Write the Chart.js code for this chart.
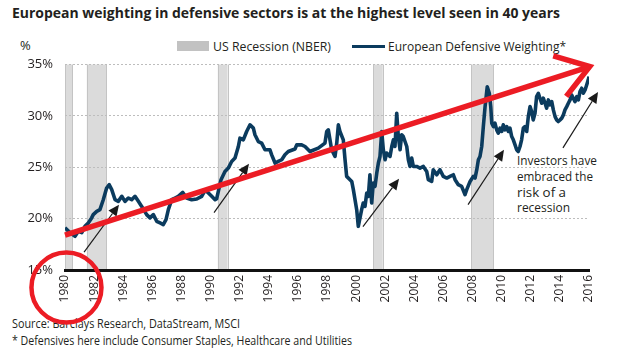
<!DOCTYPE html>
<html>
<head>
<meta charset="utf-8">
<script src="https://cdn.jsdelivr.net/npm/chart.js@4.4.1/dist/chart.umd.min.js"></script>
<style>
html,body{margin:0;padding:0;background:#fff;}
#wrap{position:relative;width:623px;height:356px;overflow:hidden;font-family:'Open Sans',sans-serif;color:#231f20;}
.t{position:absolute;white-space:nowrap;transform-origin:0 50%;}
#c{position:absolute;left:0;top:0;}
</style>
</head>
<body>
<div id="wrap">
  <div class="t" data-w="548" style="left:12px;top:3px;font-size:15px;line-height:18px;font-weight:700;">European weighting in defensive sectors is at the highest level seen in 40 years</div>
  <div class="t" style="left:20px;top:37px;font-size:13px;line-height:16px;">%</div>
  <div style="position:absolute;left:177px;top:41px;width:32px;height:10px;background:#c2c2c2;"></div>
  <div class="t" data-w="118" style="left:213px;top:38px;font-size:13px;line-height:16px;">US Recession (NBER)</div>
  <div style="position:absolute;left:352px;top:44.5px;width:33px;height:3.5px;background:#0b3b5e;"></div>
  <div class="t" data-w="178" style="left:388px;top:38px;font-size:13px;line-height:16px;">European Defensive Weighting*</div>
  <div class="t" data-w="80" style="left:517px;top:152px;font-size:13.5px;line-height:16px;">Investors have</div>
  <div class="t" data-w="76" style="left:517px;top:168px;font-size:13.5px;line-height:16px;">embraced the</div>
  <div class="t" data-w="49" style="left:517px;top:184px;font-size:13.5px;line-height:16px;">risk of a</div>
  <div class="t" data-w="53" style="left:517px;top:199px;font-size:13.5px;line-height:16px;">recession</div>
  <div class="t" data-w="228" style="left:12px;top:315.5px;font-size:12px;line-height:15px;">Source: Barclays Research, DataStream, MSCI</div>
  <div class="t" data-w="340" style="left:12px;top:332.5px;font-size:12px;line-height:15px;">* Defensives here include Consumer Staples, Healthcare and Utilities</div>
  <canvas id="c" width="623" height="356"></canvas>
</div>
<script>
// ---- data ----
const years = [1980.00,1980.34,1980.69,1980.91,1981.15,1981.37,1981.60,1981.83,1981.94,1982.18,
1982.40,1982.63,1982.86,1983.04,1983.21,1983.44,1983.66,1983.90,1984.12,1984.35,
1984.58,1984.81,1985.04,1985.27,1985.61,1985.84,1986.07,1986.30,1986.53,1986.75,
1986.94,1987.10,1987.33,1987.56,1987.78,1988.09,1988.36,1988.70,1989.05,1989.39,
1989.62,1989.85,1990.08,1990.31,1990.42,1990.72,1990.99,1991.22,1991.45,1991.68,
1991.91,1992.02,1992.25,1992.48,1992.71,1992.94,1993.05,1993.28,1993.51,1993.74,
1994.08,1994.20,1994.43,1994.65,1994.89,1995.11,1995.34,1995.80,1995.92,1996.26,
1996.49,1996.83,1997.40,1997.86,1997.98,1998.09,1998.32,1998.55,1998.67,1998.78,
1998.89,1999.12,1999.24,1999.35,1999.58,1999.70,1999.81,2000.04,2000.15,2000.38,
2000.49,2000.61,2000.73,2000.84,2000.95,2001.07,2001.18,2001.30,2001.42,2001.53,
2001.64,2001.76,2001.87,2001.99,2002.10,2002.33,2002.45,2002.56,2002.67,2002.79,
2002.90,2003.02,2003.13,2003.24,2003.48,2003.59,2003.70,2003.82,2003.93,2004.16,
2004.39,2004.62,2004.85,2004.96,2005.19,2005.30,2005.54,2005.76,2005.99,2006.23,
2006.45,2006.68,2006.80,2007.02,2007.25,2007.48,2007.60,2007.83,2008.05,2008.17,
2008.29,2008.40,2008.51,2008.63,2008.74,2008.86,2009.01,2009.15,2009.25,2009.32,
2009.43,2009.54,2009.66,2009.77,2009.89,2010.00,2010.11,2010.23,2010.35,2010.46,
2010.57,2010.69,2010.80,2010.92,2011.03,2011.14,2011.26,2011.37,2011.49,2011.60,
2011.72,2011.83,2011.95,2012.06,2012.17,2012.29,2012.40,2012.52,2012.63,2012.75,
2012.86,2012.98,2013.09,2013.21,2013.32,2013.44,2013.55,2013.67,2013.78,2013.89,
2014.01,2014.13,2014.24,2014.35,2014.47,2014.58,2014.70,2014.81,2014.92,2015.04,
2015.16,2015.27,2015.38,2015.50,2015.61,2015.73,2015.84,2015.95,2016.00];

const defensiveWeight = [19.10,18.64,18.28,18.77,18.64,19.25,19.58,20.07,20.39,20.71,
20.87,21.84,22.98,23.30,22.82,21.84,21.68,22.17,21.68,22.01,
21.84,22.17,21.68,21.19,20.39,20.07,20.39,19.74,19.58,19.42,
19.90,20.87,21.84,22.01,22.17,22.55,22.01,21.84,21.91,22.17,
22.75,22.50,22.17,21.84,21.94,23.79,24.59,24.92,25.56,25.89,
27.02,27.83,27.67,28.48,29.13,28.81,28.16,27.50,27.35,26.70,
26.70,26.21,25.41,25.56,25.73,26.21,26.53,26.77,27.18,27.18,
27.02,26.53,26.86,27.35,28.48,28.64,26.70,26.05,27.35,29.13,
28.48,27.67,25.73,24.11,23.79,23.62,22.82,20.87,19.25,20.87,
21.52,21.19,22.50,22.17,24.27,21.52,23.47,23.14,24.44,25.41,
26.05,28.48,26.70,25.73,26.38,26.05,27.02,27.67,27.02,30.26,
27.99,26.70,28.16,27.99,27.02,25.73,25.08,25.89,25.08,25.08,
24.92,25.08,24.59,23.79,23.62,24.76,24.27,24.76,24.11,23.95,
24.11,24.27,23.79,23.30,23.14,22.33,22.82,23.62,24.11,23.95,
24.76,25.73,26.05,27.02,28.96,30.90,32.84,32.20,30.90,29.29,
28.96,29.29,28.64,28.32,28.81,28.48,29.13,28.64,28.96,28.48,
28.81,27.99,27.67,27.18,26.70,26.53,27.02,27.67,28.81,28.96,
28.48,29.93,30.90,30.42,29.61,30.26,31.87,32.20,31.72,31.23,
31.72,31.23,30.75,31.55,31.07,31.39,30.58,29.93,29.61,29.45,
29.61,29.78,30.10,30.58,30.90,31.23,31.55,32.04,31.72,31.39,
31.87,31.55,32.36,32.69,32.20,32.52,33.01,33.50,33.82];

// US recessions (NBER), decimal years
const recessionStart = [1980.00, 1981.50, 1990.50, 2001.17, 2007.92];
const recessionEnd   = [1980.50, 1982.83, 1991.17, 2001.83, 2009.42];

// axis ticks
const xTickMin = 1980, xTickMax = 2016, xTickStep = 2;
const yTickMin = 15, yTickMax = 35, yTickStep = 5;

// hand-drawn annotations (in data units)
const trendX = [1980.0, 2016.05];
const trendY = [18.4, 34.8];
const arrowFromX = [1981.31, 1990.24, 2000.47, 2007.69, 2014.21];
const arrowFromY = [16.73, 20.58, 19.22, 21.36, 26.89];
const arrowToX   = [1983.71, 1992.64, 2002.95, 2010.16, 2016.62];
const arrowToY   = [21.36, 25.34, 23.88, 26.70, 32.33];
const circleX = [1980.1], circleY = [13.3];

// ---- fit text widths ----
document.querySelectorAll('[data-w]').forEach(el => {
  const w = el.getBoundingClientRect().width;
  el.style.transform = 'scaleX(' + (+el.dataset.w / w) + ')';
});

const RED = '#ec1c24';
const overlay = {
  id: 'overlay',
  beforeDraw(chart) {
    const {ctx, chartArea: a, scales: {x}} = chart;
    ctx.save();
    for (let i = 0; i < recessionStart.length; i++) {
      const x0 = x.getPixelForValue(recessionStart[i]);
      const x1 = x.getPixelForValue(recessionEnd[i]);
      ctx.fillStyle = '#dbdbdb';
      ctx.fillRect(x0, a.top, x1 - x0, a.bottom - a.top);
      ctx.strokeStyle = '#c4c4c4';
      ctx.lineWidth = 1;
      [x0, x1].forEach(p => {
        ctx.beginPath();
        ctx.moveTo(Math.round(p) + 0.5, a.top);
        ctx.lineTo(Math.round(p) + 0.5, a.bottom);
        ctx.stroke();
      });
    }
    ctx.restore();
  },
  beforeDatasetsDraw(chart) {
    const {ctx, scales: {x, y}} = chart;
    ctx.save();
    ctx.strokeStyle = '#1a1a1a';
    ctx.fillStyle = '#1a1a1a';
    ctx.lineWidth = 1.2;
    for (let i = 0; i < arrowFromX.length; i++) {
      const x0 = x.getPixelForValue(arrowFromX[i]), y0 = y.getPixelForValue(arrowFromY[i]);
      const x1 = x.getPixelForValue(arrowToX[i]), y1 = y.getPixelForValue(arrowToY[i]);
      const ang = Math.atan2(y1 - y0, x1 - x0);
      const L = 11, H = 5;
      const bx = x1 - L * Math.cos(ang), by = y1 - L * Math.sin(ang);
      ctx.beginPath();
      ctx.moveTo(x0, y0);
      ctx.lineTo(bx, by);
      ctx.stroke();
      ctx.beginPath();
      ctx.moveTo(x1, y1);
      ctx.lineTo(bx + H * Math.sin(ang), by - H * Math.cos(ang));
      ctx.lineTo(bx - H * Math.sin(ang), by + H * Math.cos(ang));
      ctx.closePath();
      ctx.fill();
    }
    ctx.restore();
  },
  afterDraw(chart) {
    const {ctx, scales: {x, y}} = chart;
    ctx.save();
    ctx.strokeStyle = RED;
    const n = trendX.length - 1;
    const tx = x.getPixelForValue(trendX[n]), ty = y.getPixelForValue(trendY[n]);
    const sx = x.getPixelForValue(trendX[0]), sy = y.getPixelForValue(trendY[0]);
    const back = Math.atan2(sy - ty, sx - tx);
    const arm = 38, spread = 34 * Math.PI / 180;
    ctx.lineWidth = 5.5;
    ctx.lineJoin = 'miter';
    ctx.beginPath();
    ctx.moveTo(tx + arm * Math.cos(back + spread), ty + arm * Math.sin(back + spread));
    ctx.lineTo(tx, ty);
    ctx.lineTo(tx + arm * Math.cos(back - spread), ty + arm * Math.sin(back - spread));
    ctx.stroke();
    ctx.lineWidth = 4.5;
    ctx.beginPath();
    ctx.arc(x.getPixelForValue(circleX[0]), y.getPixelForValue(circleY[0]), 35, 0, Math.PI * 2);
    ctx.stroke();
    ctx.restore();
  }
};

new Chart(document.getElementById('c'), {
  type: 'line',
  data: {
    datasets: [
      {
        label: 'trend',
        data: trendX.map((v, i) => ({x: v, y: trendY[i]})),
        borderColor: RED,
        borderWidth: 5.5,
        pointRadius: 0,
        clip: false,
        order: 0
      },
      {
        label: 'European Defensive Weighting*',
        data: years.map((v, i) => ({x: v, y: defensiveWeight[i]})),
        borderColor: '#0b3b5e',
        borderWidth: 3.6,
        pointRadius: 0,
        tension: 0,
        borderJoinStyle: 'round',
        order: 1
      }
    ]
  },
  options: {
    responsive: false,
    animation: false,
    events: [],
    layout: {padding: {top: 64.5, right: 34, left: 0, bottom: 0}},
    plugins: {legend: {display: false}, title: {display: false}, tooltip: {enabled: false}},
    scales: {
      x: {
        type: 'linear',
        min: xTickMin, max: xTickMax,
        afterFit(s) { s.height = 86; },
        grid: {display: false, drawTicks: false},
        border: {display: true, color: '#111', width: 3},
        ticks: {
          stepSize: xTickStep,
          autoSkip: false,
          minRotation: 90, maxRotation: 90,
          padding: 5,
          color: '#231f20',
          font: {family: 'Open Sans', size: 12},
          callback: v => String(v)
        }
      },
      y: {
        min: yTickMin, max: yTickMax,
        afterFit(s) { s.width = 65; },
        grid: {color: '#bdbdbd', lineWidth: 1, drawTicks: false},
        border: {display: false, dash: [2, 2]},
        ticks: {
          stepSize: yTickStep,
          padding: 12,
          color: '#231f20',
          font: {family: 'Open Sans', size: 13},
          callback: v => v + '%'
        }
      }
    }
  },
  plugins: [overlay]
});
</script>
</body>
</html>
